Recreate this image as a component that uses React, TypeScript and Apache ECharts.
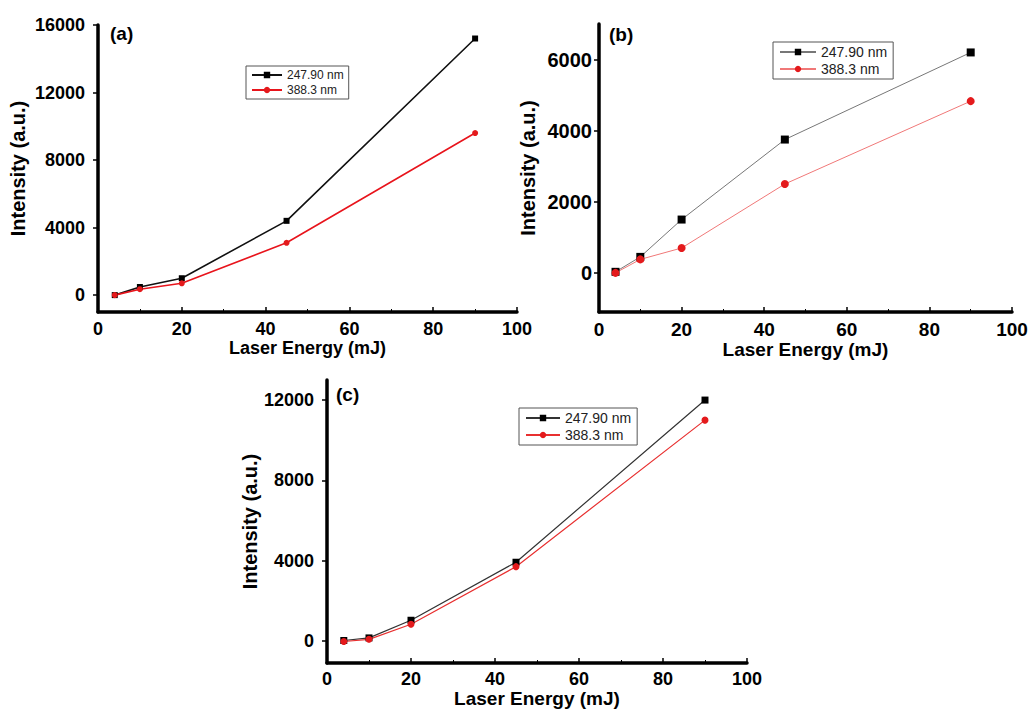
import React, { useEffect, useRef } from "react";
import * as echarts from "echarts";

const energy = [4, 10, 20, 45, 90];
const aBlack = [0, 480, 1000, 4400, 15200];
const aRed = [0, 350, 700, 3100, 9600];
const bBlack = [30, 450, 1500, 3750, 6200];
const bRed = [0, 380, 700, 2500, 4830];
const cBlack = [20, 150, 1030, 3920, 12000];
const cRed = [-30, 80, 830, 3700, 11000];
const xTicks = [0, 20, 40, 60, 80, 100];
const aYTicks = [0, 4000, 8000, 12000, 16000];
const bYTicks = [0, 2000, 4000, 6000];
const cYTicks = [0, 4000, 8000, 12000];
const seriesLabels = ["247.90 nm", "388.3 nm"];
const panelLabels = ["(a)", "(b)", "(c)"];
const xTitle = "Laser Energy (mJ)";
const yTitle = "Intensity (a.u.)";

const FONT = "'Liberation Sans', Arial, sans-serif";

const zip = (xs: number[], ys: number[]) => xs.map((x, i) => [x, ys[i]]);

export default function App() {
  const ref = useRef<HTMLDivElement>(null);
  useEffect(() => {
    document.body.style.margin = "0";
    if (!ref.current) return;
    const chart = echarts.init(ref.current, undefined, { renderer: "svg" });

    const panels = [
      {
        grid: { left: 98, top: 25, width: 419, height: 287 },
        yMin: -1000, yMax: 16000, yTicks: aYTicks,
        black: aBlack, red: aRed,
        blackLine: "#111", redLine: "#e8141c", lw: 1.6, sym: 6,
        yLabelSize: 18, xLabelSize: 18, yLabelMargin: 13, xLabelMargin: 8,
        yNameGap: 70, xNameGap: 18, nameSize: 18, yNameSize: 20,
        legend: { left: 246, top: 66, fontSize: 12, itemWidth: 30, padding: [3, 5] },
        label: { x: 110, y: 24 },
      },
      {
        grid: { left: 599, top: 24, width: 413, height: 288 },
        yMin: -1100, yMax: 7000, yTicks: bYTicks,
        black: bBlack, red: bRed,
        blackLine: "#777", redLine: "#f07878", lw: 1, sym: 8,
        yLabelSize: 20, xLabelSize: 19, yLabelMargin: 7, xLabelMargin: 8,
        yNameGap: 61, xNameGap: 22, nameSize: 19, yNameSize: 20,
        legend: { left: 773, top: 42, fontSize: 14, itemWidth: 36, padding: [3, 6] },
        label: { x: 609, y: 25 },
      },
      {
        grid: { left: 327, top: 380, width: 420, height: 283 },
        yMin: -1100, yMax: 13000, yTicks: cYTicks,
        black: cBlack, red: cRed,
        blackLine: "#333", redLine: "#e83030", lw: 1.2, sym: 7,
        yLabelSize: 18, xLabelSize: 18, yLabelMargin: 13, xLabelMargin: 7,
        yNameGap: 59, xNameGap: 26, nameSize: 19, yNameSize: 20,
        legend: { left: 519, top: 408, fontSize: 14, itemWidth: 34, padding: [3, 6] },
        label: { x: 336, y: 385 },
      },
    ];

    const grids: any[] = [];
    const xAxes: any[] = [];
    const yAxes: any[] = [];
    const series: any[] = [];
    const legends: any[] = [];
    const graphics: any[] = [];
    const plain = (v: number) => String(v);

    panels.forEach((p, i) => {
      grids.push({ ...p.grid, containLabel: false });
      xAxes.push({
        type: "value",
        gridIndex: i,
        min: xTicks[0],
        max: xTicks[xTicks.length - 1],
        interval: 20,
        name: xTitle,
        nameLocation: "middle",
        nameGap: p.xNameGap,
        nameTextStyle: { fontFamily: FONT, fontWeight: "bold", fontSize: p.nameSize, color: "#000" },
        axisLine: { onZero: false, lineStyle: { color: "#000", width: 3.5 } },
        axisTick: { inside: true, length: 5, lineStyle: { color: "#000", width: 1.5 } },
        minorTick: { show: true, splitNumber: 2, length: 3, lineStyle: { color: "#000", width: 1 } },
        axisLabel: { fontFamily: FONT, fontWeight: "bold", fontSize: p.xLabelSize, color: "#000", margin: p.xLabelMargin, formatter: plain },
        splitLine: { show: false },
      });
      yAxes.push({
        type: "value",
        gridIndex: i,
        min: p.yMin,
        max: p.yMax,
        name: yTitle,
        nameLocation: "middle",
        nameGap: p.yNameGap,
        nameTextStyle: { fontFamily: FONT, fontWeight: "bold", fontSize: p.yNameSize, color: "#000" },
        axisLine: { onZero: false, lineStyle: { color: "#000", width: 3.5 } },
        axisTick: { show: true, inside: false, length: 5, customValues: p.yTicks, lineStyle: { color: "#000", width: 1.5 } },
        axisLabel: { fontFamily: FONT, fontWeight: "bold", fontSize: p.yLabelSize, color: "#000", margin: p.yLabelMargin, customValues: p.yTicks, formatter: plain },
        splitLine: { show: false },
      });
      const nb = `p${i}b`;
      const nr = `p${i}r`;
      series.push({
        name: nb,
        type: "line",
        xAxisIndex: i,
        yAxisIndex: i,
        data: zip(energy, p.black),
        symbol: "rect",
        symbolSize: p.sym,
        lineStyle: { color: p.blackLine, width: p.lw },
        itemStyle: { color: "#000" },
      });
      series.push({
        name: nr,
        type: "line",
        xAxisIndex: i,
        yAxisIndex: i,
        data: zip(energy, p.red),
        symbol: "circle",
        symbolSize: p.sym,
        lineStyle: { color: p.redLine, width: p.lw },
        itemStyle: { color: "#e41a1c" },
      });
      const map: Record<string, string> = { [nb]: seriesLabels[0], [nr]: seriesLabels[1] };
      legends.push({
        data: [nb, nr],
        left: p.legend.left,
        top: p.legend.top,
        orient: "vertical",
        borderColor: "#555",
        borderWidth: 1,
        padding: p.legend.padding,
        itemGap: 3,
        itemWidth: p.legend.itemWidth,
        itemHeight: 8,
        selectedMode: false,
        formatter: (n: string) => map[n] ?? n,
        textStyle: { fontFamily: FONT, fontSize: p.legend.fontSize, color: "#222" },
      });
      graphics.push({
        type: "text",
        x: p.label.x,
        y: p.label.y,
        style: {
          text: panelLabels[i],
          fontFamily: FONT,
          fontWeight: "bold",
          fontSize: 19,
          fill: "#000",
          textVerticalAlign: "top",
        },
      });
    });

    chart.setOption({
      animation: false,
      backgroundColor: "#fff",
      grid: grids,
      xAxis: xAxes,
      yAxis: yAxes,
      series,
      legend: legends,
      graphic: graphics,
    });
    return () => chart.dispose();
  }, []);
  return <div ref={ref} style={{ width: 1034, height: 711 }} />;
}
